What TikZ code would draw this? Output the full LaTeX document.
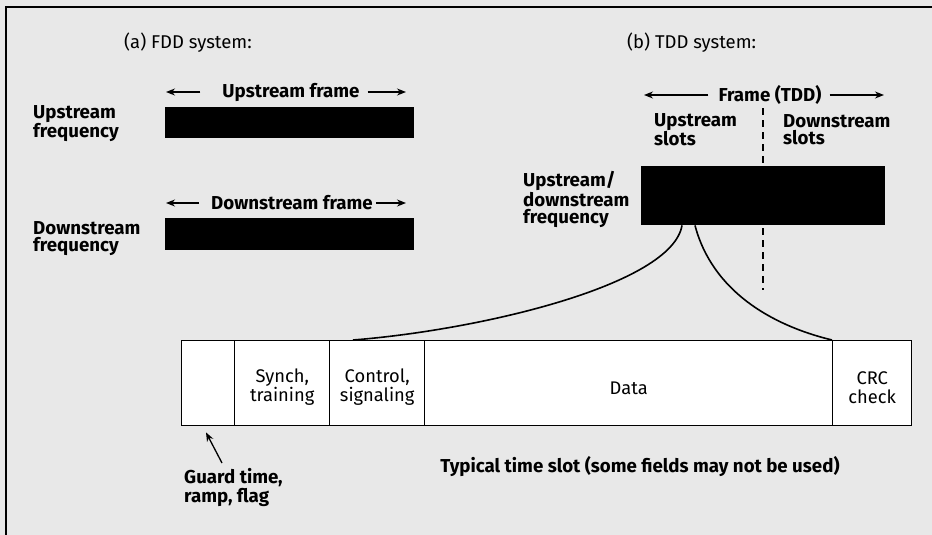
\documentclass[tikz,border=0pt]{standalone}
\usepackage{fontspec}
\setmainfont{Fira Sans}
\usetikzlibrary{arrows.meta,calc}

\begin{document}
\begin{tikzpicture}[x=1pt,y=-1pt,
  txt/.style={font=\fontsize{18.5}{19}\selectfont, inner sep=0pt, align=left},
  btxt/.style={font=\fontsize{18.7}{17}\selectfont\bfseries, inner sep=0pt, align=left},
  ctxt/.style={font=\fontsize{18.3}{19}\selectfont, inner sep=0pt, align=center},
  bar/.style={fill=black, draw=none, inner sep=0pt, anchor=north west},
  cell/.style={draw=black, fill=white, line width=1.4pt, inner sep=0pt, anchor=north west, minimum height=85pt},
  arr/.style={line width=1.3pt, -{Stealth[length=9pt,width=7pt]}},
  link/.style={line width=1.6pt},
  divider/.style={line width=1.6pt, dash pattern=on 7pt off 5pt}]

% page and frame
\useasboundingbox (0,0) rectangle (932,535);
\fill[black!9] (0,0) rectangle (932,535);
\draw[line width=2pt] (6,535) -- (6,7) -- (932,7);

% (a) FDD system
\node[txt, anchor=west] (fddtitle) at (124,43) {(a) FDD system:};

\node[btxt] (upframe) at (291,92) {Upstream frame};
\coordinate (upl) at (166,92);
\coordinate (upr) at (406,92);
\draw[arr] ($(upframe.west)+(-22,0)$) -- (upl);
\draw[arr] ($(upframe.east)+(8,0)$) -- (upr);
\node[bar, minimum width=249pt, minimum height=31pt] (upbar) at (165,107) {};
\node[btxt, anchor=west] (upfreq) at (33,123.5) {Upstream\\frequency};

\node[btxt] (dnframe) at (292,203) {Downstream frame};
\coordinate (dnl) at (166,203);
\coordinate (dnr) at (406,203);
\draw[arr] ($(dnframe.west)+(-12,0)$) -- (dnl);
\draw[arr] ($(dnframe.east)+(3,0)$) -- (dnr);
\node[bar, minimum width=249pt, minimum height=32pt] (dnbar) at (165,218) {};
\node[btxt, anchor=west] (dnfreq) at (33,238.5) {Downstream\\frequency};

% (b) TDD system
\node[txt, anchor=west] (tddtitle) at (627,43) {(b) TDD system:};

\node[btxt] (frame) at (770,95) {Frame (TDD)};
\coordinate (frl) at (644,95);
\coordinate (frr) at (884,95);
\draw[arr] ($(frame.west)+(-10,0)$) -- (frl);
\draw[arr] ($(frame.east)+(8,0)$) -- (frr);

\node[btxt, anchor=west] (upslots) at (654,129.5) {Upstream\\slots};
\node[btxt, anchor=west] (dnslots) at (783,129.5) {Downstream\\slots};
\coordinate (divtop) at (763,108);
\coordinate (divbot) at (763,290);
\draw[divider] (divtop) -- (divbot);

\node[bar, minimum width=244pt, minimum height=59pt] (tddbar) at (641,166) {};
\node[btxt, anchor=west] (tddfreq) at (523,199.5) {Upstream/\\downstream\\frequency};

% typical time slot
\node[cell, minimum width=53pt] (guard) at (181,340) {};
\node[cell, minimum width=95pt] (synch) at (234,340) {};
\node[cell, minimum width=95pt] (ctrl) at (329,340) {};
\node[cell, minimum width=408pt] (data) at (424,340) {};
\node[cell, minimum width=79pt] (crc) at (832,340) {};
\node[ctxt] at ($(synch.center)+(0,4)$) {Synch,\\training};
\node[ctxt] at ($(ctrl.center)+(0,4)$) {Control,\\signaling};
\node[ctxt] at ($(data.center)+(0,5)$) {Data};
\node[ctxt] at ($(crc.center)+(0,4)$) {CRC\\check};

% slot drawn out of the TDD frame
\draw[link] ($(tddbar.south west)+(41,0)$) .. controls (672,285) and (480,330) .. ($(ctrl.north west)+(24,0)$);
\draw[link] ($(tddbar.south west)+(54,0)$) .. controls (712,290) and (770,325) .. (crc.north west);

% captions
\node[btxt, anchor=west] (guardlbl) at (184,487.5) {Guard time,\\ramp, flag};
\draw[arr] (222,463) -- ($(guard.south west)+(25,6)$);
\node[btxt] (caption) at (640,467) {Typical time slot (some fields may not be used)};

\end{tikzpicture}
\end{document}
